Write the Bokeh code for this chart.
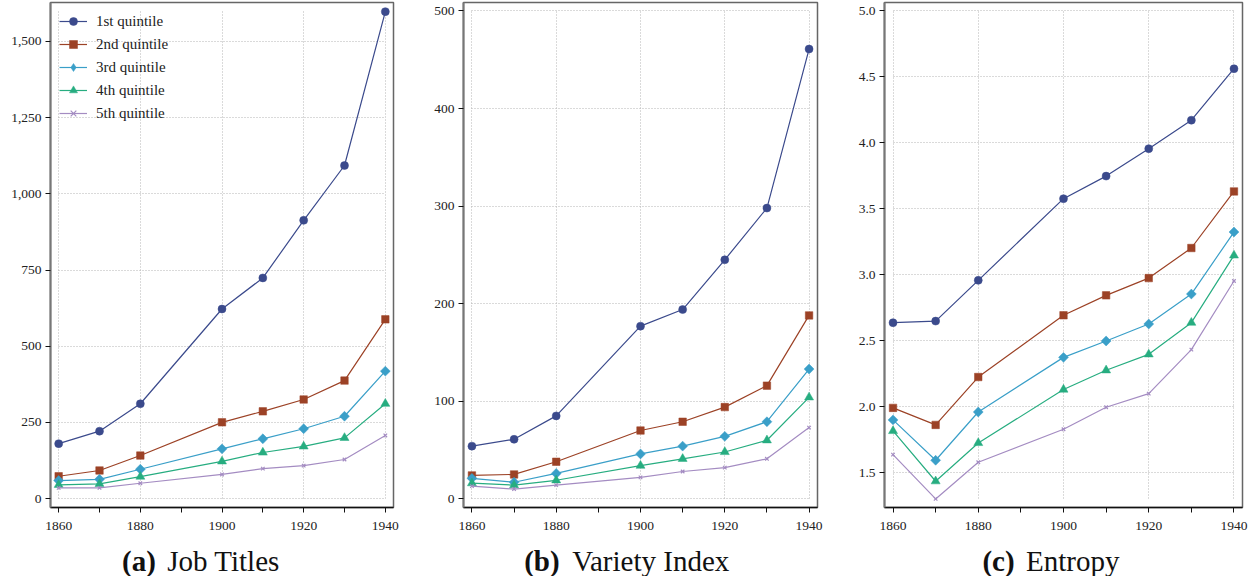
import math
from bokeh.plotting import figure
from bokeh.models import FixedTicker, NumeralTickFormatter, Range1d
from bokeh.layouts import row, column
from bokeh.core.properties import value
from bokeh.embed import file_html
from bokeh.resources import INLINE

years = [1860, 1870, 1880, 1900, 1910, 1920, 1930, 1940]
quintiles = ["1st quintile", "2nd quintile", "3rd quintile", "4th quintile", "5th quintile"]

# (a) Job Titles
jobs_q1 = [180, 221, 311, 622, 724, 913, 1093, 1598]
jobs_q2 = [73, 92, 141, 250, 286, 325, 387, 588]
jobs_q3 = [59, 63, 96, 163, 196, 229, 270, 418]
jobs_q4 = [45, 48, 72, 122, 151, 171, 199, 311]
jobs_q5 = [35, 35, 50, 79, 98, 108, 128, 207]

# (b) Variety Index
var_q1 = [54, 61, 85, 177, 194, 245, 298, 461]
var_q2 = [24, 25, 38, 70, 79, 94, 116, 188]
var_q3 = [21, 17, 26, 46, 54, 64, 79, 133]
var_q4 = [16, 14, 19, 34, 41, 48, 60, 104]
var_q5 = [13, 10, 14, 22, 28, 32, 41, 73]

# (c) Entropy
ent_q1 = [2.636, 2.648, 2.957, 3.576, 3.747, 3.955, 4.171, 4.561]
ent_q2 = [1.990, 1.861, 2.224, 2.692, 2.843, 2.974, 3.202, 3.631]
ent_q3 = [1.899, 1.593, 1.959, 2.373, 2.497, 2.626, 2.853, 3.323]
ent_q4 = [1.815, 1.434, 1.724, 2.129, 2.275, 2.396, 2.636, 3.146]
ent_q5 = [1.636, 1.300, 1.578, 1.828, 1.995, 2.098, 2.432, 2.952]

x_major = [1860, 1880, 1900, 1920, 1940]
x_minor = [1870, 1890, 1910, 1930]
jobs_ticks = [0, 250, 500, 750, 1000, 1250, 1500]
var_ticks = [0, 100, 200, 300, 400, 500]
ent_ticks = [1.5, 2.0, 2.5, 3.0, 3.5, 4.0, 4.5, 5.0]

caption_tags = ["(a)", "(b)", "(c)"]
caption_texts = ["Job Titles", "Variety Index", "Entropy"]

colors = ["#3b4a8c", "#9c4226", "#3a9fc8", "#27ad80", "#a48cc2"]
markers = ["circle", "square", "square", "triangle", "x"]
legend_markers = ["circle", "square", "diamond", "triangle", "x"]
angles = [0, 0, math.pi / 4, 0, 0]
msizes = [8, 7.5, 7, 9, 5]
legend_sizes = [8, 7.5, 11, 9, 5]

FONT = "Liberation Serif"
NAN = float("nan")


def make_panel(series, yticks, yrange, grid_y, width, bl, br, fmt, legend):
    p = figure(width=width, height=538, output_backend="svg", toolbar_location=None,
               x_range=Range1d(1858, 1942), y_range=Range1d(*yrange),
               min_border_left=bl, min_border_right=br, min_border_top=2,
               min_border_bottom=31)
    p.background_fill_color = "white"
    p.border_fill_color = "white"
    p.outline_line_color = "#666666"
    p.outline_line_width = 1.5
    for i, ys in enumerate(series):
        kw = dict(legend_label=quintiles[i]) if legend else {}
        p.line(years, ys, line_color=colors[i], line_width=1.2, **kw)
        if markers[i] == "x":
            p.scatter(years, ys, marker="x", size=msizes[i], line_color=colors[i],
                      line_width=1.2)
        else:
            p.scatter(years, ys, marker=markers[i], size=msizes[i], angle=angles[i],
                      fill_color=colors[i], line_color=colors[i], line_width=0.5)
        if legend:
            # an off-screen (NaN) point whose only role is the legend glyph
            p.scatter([NAN], [NAN], marker=legend_markers[i], size=legend_sizes[i],
                      fill_color=colors[i], line_color=colors[i],
                      line_width=1.2 if legend_markers[i] == "x" else 0.5, **kw)
    # axes
    p.xaxis.ticker = FixedTicker(ticks=x_major, minor_ticks=x_minor)
    p.yaxis.ticker = FixedTicker(ticks=yticks)
    p.yaxis.formatter = NumeralTickFormatter(format=fmt)
    for ax in (p.xaxis, p.yaxis):
        ax.major_label_text_font = FONT
        ax.major_label_text_font_size = "13.5px"
        ax.major_label_text_color = "#222222"
        ax.major_tick_out = 5
        ax.major_tick_in = 0
        ax.minor_tick_out = 5
        ax.minor_tick_in = 0
        ax.major_tick_line_color = "#111111"
        ax.minor_tick_line_color = "#111111"
    p.xaxis.axis_line_color = "#111111"
    p.xaxis.axis_line_width = 1.5
    p.xaxis.major_label_standoff = 9
    p.yaxis.axis_line_color = "#777777"
    p.yaxis.axis_line_width = 2
    p.yaxis.major_label_standoff = 4
    # grid
    p.xgrid.grid_line_color = "#b5b5b5"
    p.ygrid.grid_line_color = "#b5b5b5"
    p.xgrid.grid_line_dash = "1 2"
    p.ygrid.grid_line_dash = "1 2"
    p.xgrid.grid_line_width = 1
    p.ygrid.grid_line_width = 1
    p.xgrid.cross_bounds = grid_y
    p.ygrid.cross_bounds = (1860, 1940)
    if legend:
        lg = p.legend[0]
        lg.location = "top_left"
        lg.border_line_color = None
        lg.background_fill_alpha = 0
        lg.label_text_font = FONT
        lg.label_text_font_size = "15px"
        lg.label_text_color = "#222222"
        lg.glyph_width = 28
        lg.glyph_height = 20
        lg.label_height = 20
        lg.spacing = 3
        lg.margin = 9
        lg.padding = 7
        lg.label_standoff = 9
    return p


def make_caption(idx, width, tag_right, text_left):
    c = figure(width=width, height=38, output_backend="svg", toolbar_location=None,
               x_range=Range1d(0, width), y_range=Range1d(0, 38),
               x_axis_location=None, y_axis_location=None,
               min_border=0, min_border_left=0, min_border_right=0,
               min_border_top=0, min_border_bottom=0)
    c.outline_line_color = None
    c.xgrid.visible = False
    c.ygrid.visible = False
    c.background_fill_color = "white"
    c.border_fill_color = "white"
    c.text(x=[tag_right], y=[16], text=[caption_tags[idx]], text_align="right",
           text_baseline="middle", text_font=value(FONT), text_font_size="29px",
           text_font_style="bold", text_color="#111111")
    c.text(x=[text_left], y=[16], text=[caption_texts[idx]], text_align="left",
           text_baseline="middle", text_font=value(FONT), text_font_size="29px",
           text_color="#111111")
    return c


fa = make_panel([jobs_q1, jobs_q2, jobs_q3, jobs_q4, jobs_q5], jobs_ticks, (-29.5, 1628),
                (0, 1598), 420, 50, 27, "0,0", True)
fb = make_panel([var_q1, var_q2, var_q3, var_q4, var_q5], var_ticks, (-8.9, 508.7),
                (0, 500), 420, 43, 23, "0", False)
fc = make_panel([ent_q1, ent_q2, ent_q3, ent_q4, ent_q5], ent_ticks, (1.235, 5.063),
                (1.3, 5.0), 410, 44, 8, "0.0", False)

ca = make_caption(0, 420, 129, 143)
cb = make_caption(1, 420, 114, 129)
cc = make_caption(2, 410, 149, 162)

layout = row(column(fa, ca), column(fb, cb), column(fc, cc))

open("out.html", "w").write(file_html(layout, INLINE))
